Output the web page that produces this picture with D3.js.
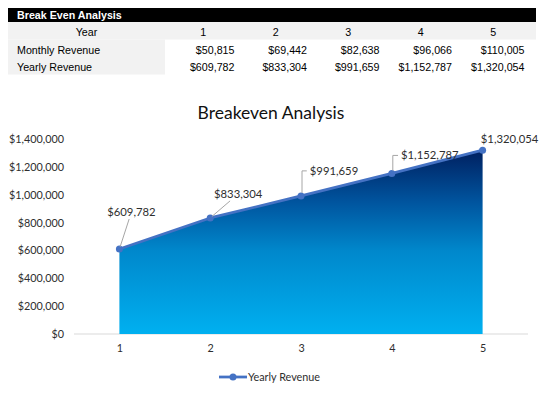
<!DOCTYPE html>
<html>
<head>
<meta charset="utf-8">
<script src="https://cdn.jsdelivr.net/npm/d3@7/dist/d3.min.js"></script>
<style>
  html, body { margin: 0; padding: 0; background: #fff; }
  svg { display: block; }
</style>
</head>
<body>
<div id="chart"></div>
<script>
// Data
const tableTitle = "Break Even Analysis";
const chartTitle = "Breakeven Analysis";
const years = [1, 2, 3, 4, 5];
const monthlyRevenue = [50815, 69442, 82638, 96066, 110005];
const yearlyRevenue = [609782, 833304, 991659, 1152787, 1320054];
const yTicks = [0, 200000, 400000, 600000, 800000, 1000000, 1200000, 1400000];
const seriesName = "Yearly Revenue";

// Data label placement relative to each point (layout only)
const labelLayout = [
  { dx: 12, dy: -37, leader: "line" },
  { dx: 28, dy: -24, leader: "line" },
  { dx: 33, dy: -25, leader: "elbow" },
  { dx: 38, dy: -18, leader: "elbow" },
  { dx: 27, dy: -11, leader: "none" }
];

const W = 545, H = 404;
const svg = d3.select("#chart").append("svg")
  .attr("width", W)
  .attr("height", H);

const money = d3.format("$,.0f");

// ---------- Table ----------
const table = svg.append("g").attr("class", "table");
const tbl = { left: 8, right: 536, labelW: 157, colW: 72.5, headTop: 8, headH: 14, rowH: 17.5 };
const tableFont = "'Liberation Sans', Arial, sans-serif";

table.append("rect")
  .attr("x", tbl.left).attr("y", tbl.headTop)
  .attr("width", tbl.right - tbl.left).attr("height", tbl.headH)
  .attr("fill", "#000");
table.append("text")
  .attr("x", 17).attr("y", tbl.headTop + 11)
  .attr("fill", "#fff")
  .style("font", `bold 10.7px ${tableFont}`)
  .text(tableTitle);

const rowTop = tbl.headTop + tbl.headH;
// Year row full-width grey, label column grey
table.append("rect")
  .attr("x", tbl.left).attr("y", rowTop)
  .attr("width", tbl.right - tbl.left).attr("height", tbl.rowH)
  .attr("fill", "#f2f2f2");
table.append("rect")
  .attr("x", tbl.left).attr("y", rowTop + tbl.rowH)
  .attr("width", tbl.labelW).attr("height", tbl.rowH * 2)
  .attr("fill", "#f2f2f2");

const colX = d3.scaleBand()
  .domain(years)
  .range([tbl.left + tbl.labelW, tbl.left + tbl.labelW + tbl.colW * years.length]);

const rows = [
  { label: "Year", values: years, fmt: d => d, align: "center" },
  { label: "Monthly Revenue", values: monthlyRevenue, fmt: money, align: "right" },
  { label: "Yearly Revenue", values: yearlyRevenue, fmt: money, align: "right" }
];

rows.forEach((row, i) => {
  const base = rowTop + tbl.rowH * (i + 1) - 3.5;
  table.append("text")
    .attr("x", row.align === "center" ? tbl.left + tbl.labelW / 2 : 17)
    .attr("y", base)
    .attr("text-anchor", row.align === "center" ? "middle" : "start")
    .style("font", `10.7px ${tableFont}`)
    .text(row.label);
  table.selectAll(null)
    .data(row.values)
    .enter()
    .append("text")
    .attr("x", (d, j) => row.align === "center"
      ? colX(years[j]) + colX.bandwidth() / 2 + 2
      : colX(years[j]) + colX.bandwidth() - 3)
    .attr("y", base)
    .attr("text-anchor", row.align === "center" ? "middle" : "end")
    .style("font", `10.7px ${tableFont}`)
    .text(row.fmt);
});

// ---------- Chart ----------
const chartFont = "Lato, 'Open Sans', sans-serif";
const textColor = "#2e2e2e";
const lineColor = "#4472C4";

const x = d3.scalePoint().domain(years).range([74, 528]).padding(0.5);
const y = d3.scaleLinear().domain([0, 1400000]).range([334, 139]);

svg.append("text")
  .attr("x", 271).attr("y", 119)
  .attr("text-anchor", "middle")
  .attr("fill", "#111")
  .style("font", `17.5px ${chartFont}`)
  .text(chartTitle);

// gradient for the area
const defs = svg.append("defs");
const grad = defs.append("linearGradient")
  .attr("id", "areaGrad")
  .attr("x1", 0).attr("y1", 0).attr("x2", 0).attr("y2", 1);
grad.append("stop").attr("offset", "0%").attr("stop-color", "#002060");
grad.append("stop").attr("offset", "28%").attr("stop-color", "#00549e");
grad.append("stop").attr("offset", "55%").attr("stop-color", "#0088cc");
grad.append("stop").attr("offset", "100%").attr("stop-color", "#00b0f0");

// y axis
const yAxisG = svg.append("g")
  .attr("transform", "translate(64,0)")
  .call(d3.axisLeft(y).tickValues(yTicks).tickSize(0).tickPadding(0).tickFormat(money));
yAxisG.select(".domain").remove();
yAxisG.selectAll("text")
  .attr("fill", textColor)
  .style("font", `10.8px ${chartFont}`);

// baseline
svg.append("line")
  .attr("x1", x.range()[0]).attr("x2", x.range()[1])
  .attr("y1", y(0)).attr("y2", y(0))
  .attr("stroke", "#d9d9d9").attr("stroke-width", 1);

// x axis
const xAxisG = svg.append("g")
  .attr("transform", `translate(0,${y(0)})`)
  .call(d3.axisBottom(x).tickSize(0).tickPadding(10));
xAxisG.select(".domain").remove();
xAxisG.selectAll("text")
  .attr("fill", textColor)
  .style("font", `10.8px ${chartFont}`);

const pts = years.map((yr, i) => ({ yr, v: yearlyRevenue[i] }));

// area
const area = d3.area()
  .x(d => x(d.yr))
  .y0(y(0))
  .y1(d => y(d.v));
svg.append("path")
  .datum(pts)
  .attr("d", area)
  .attr("fill", "url(#areaGrad)");

// line
const line = d3.line()
  .x(d => x(d.yr))
  .y(d => y(d.v));
svg.append("path")
  .datum(pts)
  .attr("d", line)
  .attr("fill", "none")
  .attr("stroke", lineColor)
  .attr("stroke-width", 2.75)
  .attr("stroke-linejoin", "round");

svg.selectAll(".marker")
  .data(pts)
  .enter()
  .append("circle")
  .attr("class", "marker")
  .attr("cx", d => x(d.yr))
  .attr("cy", d => y(d.v))
  .attr("r", 3.5)
  .attr("fill", lineColor);

// data labels + leader lines
const labels = svg.append("g").attr("class", "labels");
pts.forEach((d, i) => {
  const px = x(d.yr), py = y(d.v);
  const lay = labelLayout[i];
  const cx = px + lay.dx, cy = py + lay.dy;
  const t = labels.append("text")
    .attr("x", cx).attr("y", cy)
    .attr("dy", "0.35em")
    .attr("text-anchor", "middle")
    .attr("fill", textColor)
    .style("font", `11.3px ${chartFont}`)
    .text(money(d.v));
  const bb = t.node().getBBox();
  if (lay.leader === "line") {
    // from point toward label center, stop at the box edge
    const vx = cx - px, vy = cy - py;
    const ty = (py - (bb.y + bb.height) - 1) / -vy;
    const tx = (bb.x - 1 - px) / vx;
    const tt = Math.max(ty, tx);
    labels.append("line")
      .attr("x1", px + vx * 0.06).attr("y1", py + vy * 0.06)
      .attr("x2", px + vx * tt).attr("y2", py + vy * tt)
      .attr("stroke", "#a6a6a6").attr("stroke-width", 1);
  } else if (lay.leader === "elbow") {
    const lx = bb.x - 3;
    labels.append("path")
      .attr("d", `M${lx},${cy}H${px + 1}V${py - 3}`)
      .attr("fill", "none")
      .attr("stroke", "#a6a6a6").attr("stroke-width", 1);
  }
});

// legend
const legend = svg.append("g").attr("transform", "translate(219,377)");
legend.append("line")
  .attr("x1", 0).attr("x2", 28)
  .attr("stroke", lineColor).attr("stroke-width", 2.75);
legend.append("circle")
  .attr("cx", 14).attr("r", 3.5)
  .attr("fill", lineColor);
legend.append("text")
  .attr("x", 29).attr("dy", "0.35em")
  .attr("fill", textColor)
  .style("font", `10.8px ${chartFont}`)
  .text(seriesName);
</script>
</body>
</html>
